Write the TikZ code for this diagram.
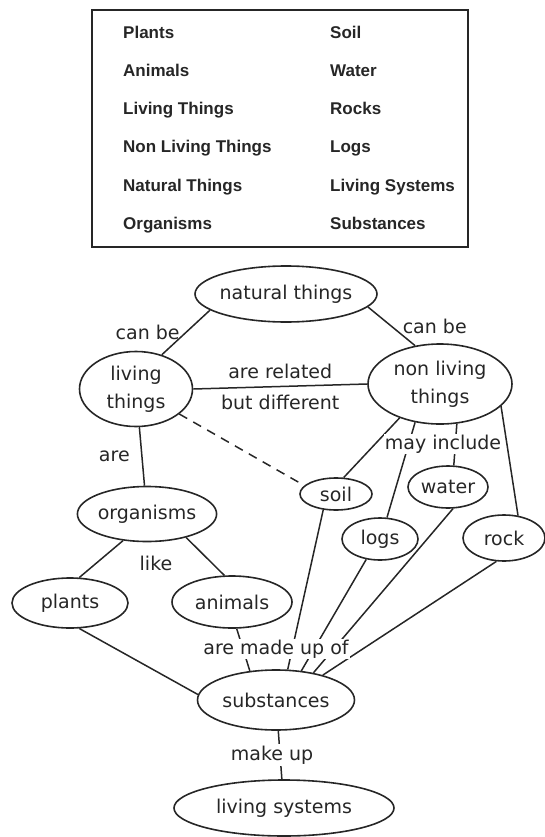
\documentclass[tikz,border=0pt]{standalone}
\usepackage{fontspec}
\setmainfont{DejaVu Sans}
\newfontfamily\boxfont{Liberation Sans}
\usetikzlibrary{shapes.geometric}
\definecolor{ink}{HTML}{262626}
\begin{document}
\begin{tikzpicture}[x=1pt,y=-1pt,
  concept/.style={ellipse, draw=ink, line width=1.6pt, inner sep=0pt, text=ink,
    font=\fontsize{19}{28}\selectfont, align=center},
  lbl/.style={text=ink, font=\fontsize{19}{23}\selectfont, inner sep=1.5pt},
  link/.style={draw=ink, line width=1.5pt},
  word/.style={font=\boxfont\bfseries\fontsize{17}{18}\selectfont, anchor=base west, text=ink, inner sep=0pt},
]
\useasboundingbox (0,0) rectangle (545,837);

% word box
\node[draw=ink, line width=1.6pt, minimum width=376pt, minimum height=237pt, inner sep=0pt] (box) at (280,128.5) {};
\node[word] (w1) at (123,39) {Plants};
\node[word] (w2) at (123,77) {Animals};
\node[word] (w3) at (123,115) {Living Things};
\node[word] (w4) at (123,153) {Non Living Things};
\node[word] (w5) at (123,191) {Natural Things};
\node[word] (w6) at (123,229) {Organisms};
\node[word] (w7) at (330,39) {Soil};
\node[word] (w8) at (330,77) {Water};
\node[word] (w9) at (330,115) {Rocks};
\node[word] (w10) at (330,153) {Logs};
\node[word] (w11) at (330,191) {Living Systems};
\node[word] (w12) at (330,229) {Substances};

% concepts
\node[concept, inner xsep=-14pt, minimum width=182pt, minimum height=56pt] (nat) at (286,294) {natural things};
\node[concept, minimum width=113pt, minimum height=75pt] (lt) at (136,389) {living\\things};
\node[concept, minimum width=144pt, minimum height=80pt] (nlt) at (440,384) {non living\\things};
\node[concept, minimum width=135pt, minimum height=55pt] (org) at (147,514) {organisms};
\node[concept, minimum width=72pt, minimum height=32pt] (soil) at (336,494) {soil};
\node[concept, minimum width=80pt, minimum height=42pt] (water) at (448,487) {water};
\node[concept, minimum width=76pt, minimum height=42pt] (logs) at (380,539) {logs};
\node[concept, minimum width=82pt, minimum height=46pt] (rock) at (504,538) {rock};
\node[concept, minimum width=116pt, minimum height=50pt] (plants) at (70,603) {plants};
\node[concept, minimum width=120pt, minimum height=52pt] (animals) at (232,602) {animals};
\node[concept, minimum width=157pt, minimum height=60pt] (subs) at (276,700) {substances};
\node[concept, minimum width=220pt, minimum height=56pt] (lsys) at (284,808) {living systems};

% connectors
\draw[link] (nat.192) -- node[lbl, left=4pt] (l1) {can be} (lt.53);
\draw[link] (nat.351) -- node[lbl, right=9pt] (l2) {can be} (nlt.123);
\draw[link] (lt.east) -- node[lbl, above=5pt] (l3) {are related} node[lbl, below=6pt] (l4) {but different} (nlt.west);
\draw[link, dash pattern=on 9pt off 7pt] (lt.330) -- (soil.165);
\draw[link] (lt) -- node[lbl, left=10pt] (l5) {are} (org);
\draw[link] (nlt.220) -- (soil.65);
\draw[link] (nlt.237) -- (logs.72);
\draw[link] (nlt.293) -- (water.75);
\draw[link] (nlt.340) -- (rock.58);
\draw[link] (org.228) -- (plants.70);
\draw[link] (org.329) -- (animals.106);
\draw[link] (soil.231) -- (subs.69);
\draw[link] (logs.236) -- (subs.49);
\draw[link] (water.283) -- (subs.36);
\draw[link] (rock.252) -- (subs.28);
\draw[link] (animals.280) -- (subs.132);
\draw[link] (plants.290) -- (subs.176);
\draw[link] (subs) -- node[lbl, fill=white, xshift=-8pt] (l6) {make up} (lsys);

\node[lbl, fill=white, inner sep=1pt] (l7) at (443,444) {may include};
\node[lbl] (l8) at (156,563) {like};
\node[lbl, fill=white, inner sep=1pt] (l9) at (276,649) {are made up of};
\end{tikzpicture}
\end{document}
